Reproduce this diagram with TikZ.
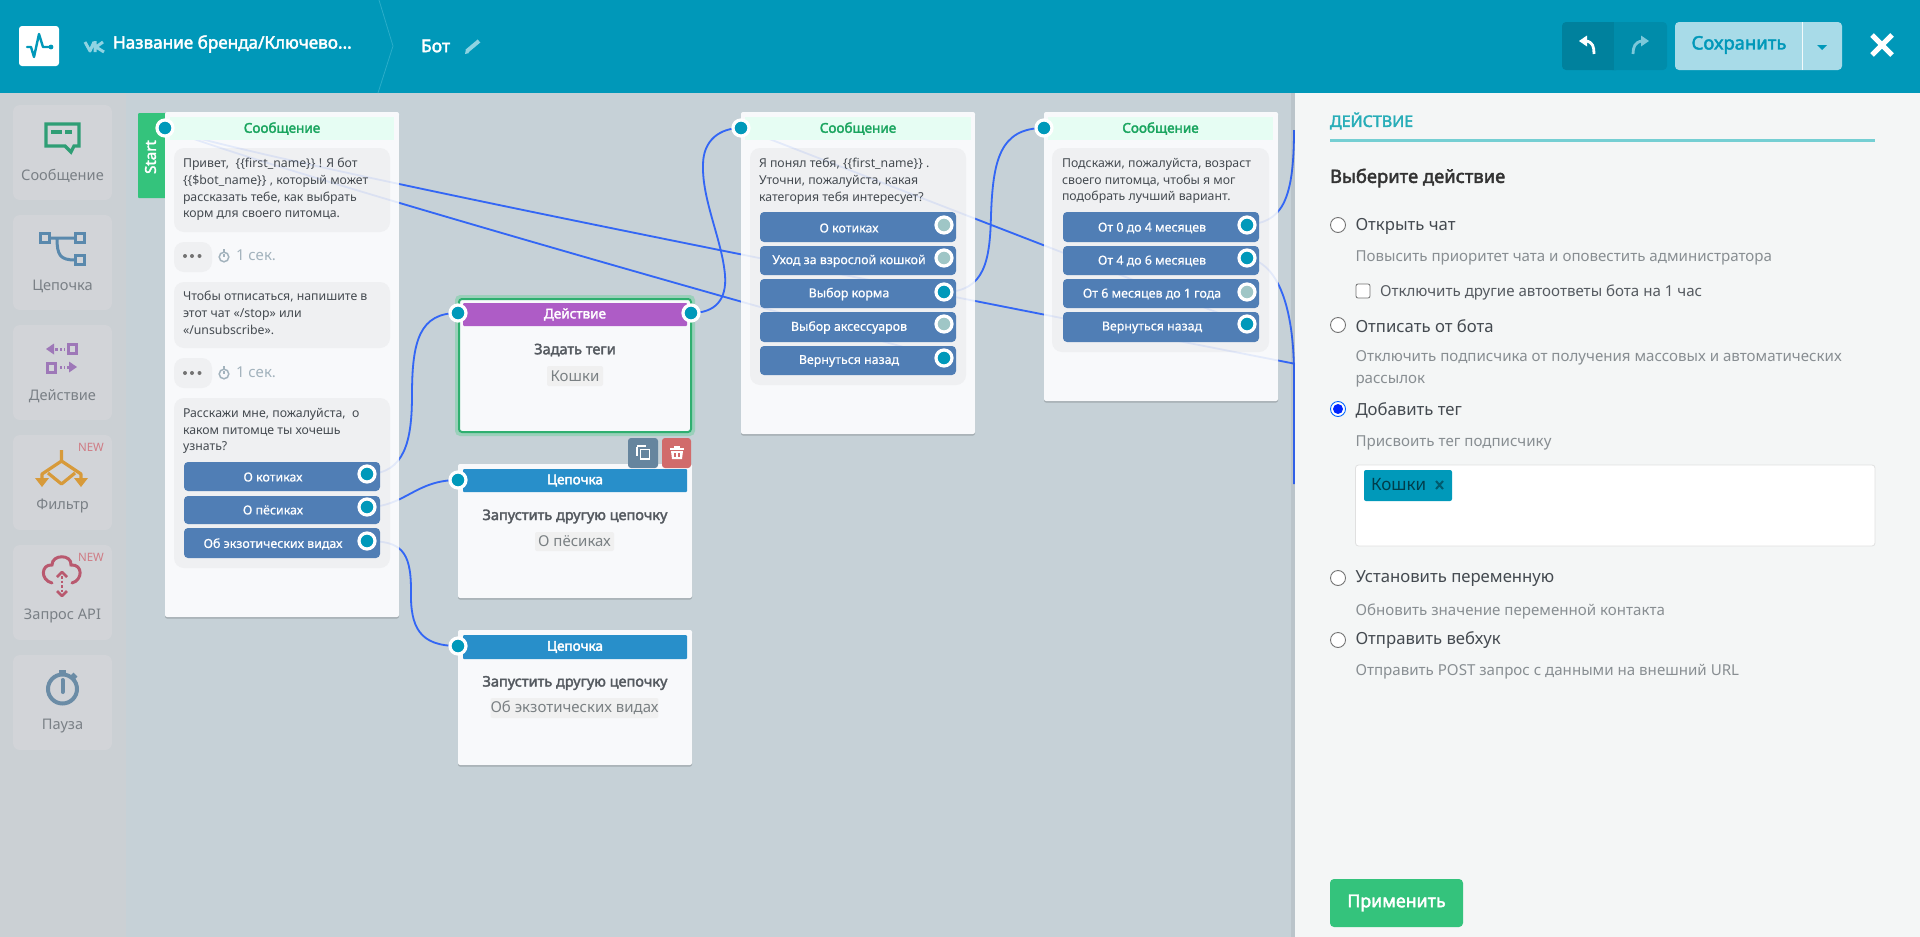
\documentclass[tikz,border=0pt]{standalone}
\usepackage{fontspec}
\setmainfont{Noto Sans}[BoldFont={Noto Sans},BoldFeatures={FakeBold=2.4}]
\newfontfamily\semib{Noto Sans}[FakeBold=0.6]
\usetikzlibrary{arrows.meta,shadows}
\definecolor{hdr}{HTML}{0098B9}
\definecolor{hdrline}{HTML}{2AADC9}
\definecolor{canvasbg}{HTML}{C6D1D7}
\definecolor{sidebg}{HTML}{CBD0D4}
\definecolor{tilebg}{HTML}{D2D4D8}
\definecolor{cardbg}{HTML}{F8F9FB}
\definecolor{msghead}{HTML}{E6FDF3}
\definecolor{msgtxt}{HTML}{1AA55F}
\definecolor{bubble}{HTML}{EFF0F2}
\definecolor{btnblue}{HTML}{507EB5}
\definecolor{portblue}{HTML}{0099BA}
\definecolor{portoff}{HTML}{9FC6C6}
\definecolor{wireblue}{HTML}{3366F5}
\definecolor{startgreen}{HTML}{34C37C}
\definecolor{glowgreen}{HTML}{9AD0BA}
\definecolor{actpurple}{HTML}{AE5CC6}
\definecolor{chainblue}{HTML}{288FCA}
\definecolor{panelbg}{HTML}{F4F6F6}
\definecolor{dk}{HTML}{444A50}
\definecolor{mid}{HTML}{555A60}
\definecolor{lite}{HTML}{888E92}
\definecolor{sidetxt}{HTML}{7A8086}
\definecolor{sectxt}{HTML}{A3B3BD}
\definecolor{icgreen}{HTML}{2F9E75}
\definecolor{icblue}{HTML}{5A89AD}
\definecolor{icpurple}{HTML}{9E78B8}
\definecolor{icorange}{HTML}{D79A3A}
\definecolor{icred}{HTML}{B9596F}
\definecolor{icslate}{HTML}{6B8CA6}
\definecolor{newred}{HTML}{CF7C85}
\definecolor{delred}{HTML}{D16B6B}
\definecolor{iconpale}{HTML}{8FD3E2}
\definecolor{redopale}{HTML}{7CC8DA}
\definecolor{teal}{HTML}{27ADB8}
\definecolor{tealline}{HTML}{75CFD3}
\definecolor{savebg}{HTML}{A8DBE8}
\newcommand{\fs}[1]{\fontsize{#1}{#1}\selectfont}
\newcommand{\rbox}[7]{\node[#2,minimum width={(#5-#3)*1pt},minimum height={(#6-#4)*1pt}] (#1) at ({(#3+#5)/2},{(#4+#6)/2}) {#7};}
\pgfdeclarelayer{wirelayer}\pgfdeclarelayer{cardlayer}\pgfdeclarelayer{faintlayer}
\pgfsetlayers{wirelayer,cardlayer,faintlayer,main}
\tikzset{
  base/.style={inner sep=0pt,outer sep=0pt},
  card/.style={base,fill=cardbg,rounded corners=2pt,drop shadow={shadow xshift=0pt,shadow yshift=-1.5pt,opacity=.18,fill=black}},
  bub/.style={base,fill=bubble,rounded corners=10pt},
  msgh/.style={base,fill=msghead,text=msgtxt,font=\bfseries\fs{13.5}},
  acth/.style={base,fill=actpurple,text=white,font=\bfseries\fs{13.5},rounded corners=1pt},
  chh/.style={base,fill=chainblue,text=white,font=\bfseries\fs{13.5},rounded corners=1pt},
  btnbox/.style={base,fill=btnblue,rounded corners=4pt},
  btntxt/.style={base,text=white,font=\semib\fs{12.4}},
  porton/.style={base,circle,draw=white,line width=3.2pt,fill=portblue,minimum size=16pt},
  portdim/.style={base,circle,draw=white,line width=3.2pt,fill=portoff,minimum size=16pt},
  para/.style={base,anchor=north west,align=left,text=dk,font=\fontsize{12.3}{16.6}\selectfont},
  tile/.style={base,fill=tilebg,rounded corners=7pt},
  sidelab/.style={base,text=sidetxt,font=\fs{14.6}},
  newlab/.style={base,text=newred,font=\fs{11.5}},
  title/.style={base,text=mid,font=\bfseries\fs{14.5}},
  tagbox/.style={base,fill=black!6,rounded corners=2pt,text=lite!90!black,font=\fs{15}},
  opt/.style={base,anchor=west,text=dk,font=\fs{16.7}},
  hint/.style={base,anchor=west,text=lite,font=\fs{15.1}},
  radio/.style={base,circle,draw=black!55,fill=white,line width=.9pt,minimum size=15pt},
  wire/.style={draw=wireblue,line width=1.8pt},
}
\newcommand{\wires}[1]{%
  \draw[wire,#1] (pSt.center) .. controls (235,157) and (1000,306) .. (offA);
  \draw[wire,#1] (pSt.center) .. controls (235,160) and (860,336) .. (pBack3.center);
  \draw[wire,#1] (pC3in.center) -- (pBack4.center);
  \draw[wire,#1] (pKot.center) .. controls (405,474) and (412,440) .. (412,395) .. controls (412,340) and (420,313) .. (pAin.center);
  \draw[wire,#1] (pPes.center) .. controls (405,507) and (415,480) .. (pCh1.center);
  \draw[wire,#1] (pEx.center) .. controls (400,541) and (411,550) .. (411,590) .. controls (410,628) and (420,646) .. (pCh2.center);
  \draw[wire,#1] (pAout.center) .. controls (715,313) and (727,300) .. (725,275) .. controls (722,240) and (702,200) .. (703,165) .. controls (703,140) and (720,128) .. (pC3in.center);
  \draw[wire,#1] (pCorm.center) .. controls (985,292) and (990,260) .. (991,215) .. controls (993,160) and (1000,128) .. (pC4in.center);
  \draw[wire,#1] (pM0.center) .. controls (1280,222) and (1294,205) .. (offB);
  \draw[wire,#1] (pM4.center) .. controls (1275,262) and (1293,300) .. (1294,370) -- (offC);
}
\begin{document}
\begin{tikzpicture}[x=1pt,y=-1pt]
\useasboundingbox (0,0) rectangle (1920,937);
\clip (0,0) rectangle (1920,937);
\coordinate (offA) at (1296,364);
\coordinate (offB) at (1294,130);
\coordinate (offC) at (1294,484);
\begin{pgfonlayer}{wirelayer}
  \fill[canvasbg] (0,0) rectangle (1920,937);
\end{pgfonlayer}
\begin{pgfonlayer}{cardlayer}
  % sidebar
  \fill[sidebg] (0,93) rectangle (126,937);
  \rbox{tSoob}{tile}{13}{105}{112}{200}{}
  \rbox{tCep}{tile}{13}{215}{112}{310}{}
  \rbox{tDei}{tile}{13}{325}{112}{420}{}
  \rbox{tFil}{tile}{13}{435}{112}{530}{}
  \rbox{tApi}{tile}{13}{545}{112}{640}{}
  \rbox{tPau}{tile}{13}{655}{112}{750}{}
  % start tab
  \rbox{tabSt}{base,fill=startgreen,rounded corners=1pt}{138}{113}{170}{198}{}
  % cards
  \rbox{c1}{card}{165}{112}{399}{617}{}
  \rbox{c3}{card}{741}{112}{975}{434}{}
  \rbox{c4}{card}{1044}{112}{1278}{401}{}
  \rbox{c5}{card}{458}{464}{692}{598}{}
  \rbox{c6}{card}{458}{630}{692}{765}{}
  \fill[glowgreen,rounded corners=5pt] (455,295) rectangle (695,436);
  \rbox{c2}{base,fill=cardbg,draw=startgreen!90!black,line width=2pt,rounded corners=3pt}{459}{299}{691}{432}{}
  % bubbles
  \rbox{b11}{bub}{174}{148}{390}{232}{}
  \rbox{b12}{bub}{174}{242}{212}{272}{}
  \rbox{b13}{bub}{174}{282}{390}{348}{}
  \rbox{b14}{bub}{174}{358}{212}{388}{}
  \rbox{b15}{bub}{174}{398}{390}{568}{}
  \rbox{b31}{bub}{750}{148}{966}{385}{}
  \rbox{b41}{bub}{1052}{148}{1269}{352}{}
  % panel
  \fill[black,opacity=.06] (1291,93) rectangle (1295,937);
  \fill[panelbg] (1295,93) rectangle (1920,937);
\end{pgfonlayer}
% header
\fill[hdr] (0,0) rectangle (1920,93);
\draw[hdrline,line width=.8pt] (379,0) -- (393,46) -- (378,93);
\rbox{logo}{base,fill=white,rounded corners=3pt}{19}{26}{59}{66}{}
\draw[hdr,line width=2.4pt,line join=round,line cap=round] (27,47) -- (31,47) -- (34,57) -- (39,34) -- (43,47) -- (50,47);
\fill[hdr] (51,47) circle (2.4);
\draw[iconpale,line width=3pt,line join=round] (85,42) -- (90,51) -- (94,42) (95,41) -- (95,52) (103,42) -- (96,47) -- (104,52);
\node[base,anchor=west,text=white,font=\bfseries\fs{17.1}] (brand) at (113,44) {Название бренда/Ключево...};
\node[base,anchor=west,text=white,font=\bfseries\fs{17.5}] (botn) at (421,46) {Бот};
\draw[iconpale,line width=4pt] (467,51) -- (479,41);
\fill[iconpale] (465,54) -- (469,53) -- (466,49) -- cycle;
\rbox{undoA}{base,fill=hdr!85!black,rounded corners=4pt}{1562}{22}{1620}{70}{}
\rbox{undoB}{base,fill=hdr!92!black,rounded corners=4pt}{1608}{22}{1667}{70}{}
\fill[hdr!85!black] (1600,22) rectangle (1614,70);
\fill[white] (1579,41) -- (1587,35.5) -- (1587,46.5) -- cycle;
\draw[white,line width=2.8pt] (1586,41) .. controls (1593,42) and (1594,47) .. (1594,54);
\fill[redopale] (1649,41) -- (1641,35.5) -- (1641,46.5) -- cycle;
\draw[redopale,line width=2.8pt] (1642,41) .. controls (1635,42) and (1633,47) .. (1633,54);
\rbox{saveb}{base,fill=savebg,rounded corners=4pt}{1675}{22}{1842}{70}{}
\draw[white!85!savebg,line width=.8pt] (1802,22) -- (1802,70);
\node[base,text=hdr,font=\bfseries\fs{18.5}] (savet) at (1739,45) {Сохранить};
\fill[hdr] (1817,45) -- (1827,45) -- (1822,50) -- cycle;
\draw[white,line width=5pt] (1872,35) -- (1892,55) (1892,35) -- (1872,55);
% sidebar labels and icons
\node[sidelab] (lSoob) at (62.5,176) {Сообщение};
\node[sidelab] (lCep) at (62.5,286) {Цепочка};
\node[sidelab] (lDei) at (62.5,396) {Действие};
\node[sidelab] (lFil) at (62.5,506) {Фильтр};
\node[sidelab] (lApi) at (62.5,616) {Запрос API};
\node[sidelab] (lPau) at (62.5,726) {Пауза};
\node[newlab] (nw1) at (91,447) {NEW};
\node[newlab] (nw2) at (91,557) {NEW};
\draw[icgreen,line width=3.2pt,line join=miter] (46,124) -- (79,124) -- (79,146) -- (74,146) -- (71,152) -- (65,146) -- (46,146) -- cycle;
\draw[icgreen,line width=3.5pt] (51,132) -- (62,132) (65,132) -- (72,132);
\draw[icblue,line width=3pt] (40.5,233.5) rectangle (49.5,242) (75.5,233.5) rectangle (84,242) (75.5,255) rectangle (84,264);
\draw[icblue,line width=3pt] (50,238) -- (75,238) (57,238) .. controls (57,255) and (60,260) .. (75,260);
\fill[icpurple] (46,349) -- (54,343.5) -- (54,354.5) -- cycle (69,361.5) -- (77,367) -- (69,372.5) -- cycle;
\draw[icpurple,line width=3pt] (55,349) -- (58,349) (60,349) -- (62,349) (64,349) -- (65,349) (60,367) -- (62,367) (64,367) -- (65,367) (67,367) -- (69,367);
\draw[icpurple,line width=3pt] (68.5,344.5) rectangle (76.5,353.5) (47.5,363) rectangle (55.5,372);
\draw[icorange,line width=3.2pt,line join=round] (61.5,450) -- (61.5,461) (42,480) -- (42,474) -- (61.5,461) -- (81,474) -- (81,480) (48,473) -- (61.5,484) -- (75,473);
\fill[icorange] (35,478) -- (49,478) -- (42,487) -- cycle (74,478) -- (88,478) -- (81,487) -- cycle;
\draw[icred,line width=3pt,line cap=round] (52,583) .. controls (40,580) and (41,564) .. (52,565) .. controls (52,554) and (72,554) .. (71,565) .. controls (83,564) and (83,580) .. (72,583);
\draw[icred,line width=2.5pt,dotted] (62,576) -- (62,592);
\draw[icred,line width=2.5pt,line join=round] (57,577) -- (62,572) -- (67,577) (57,591) -- (62,596) -- (67,591);
\draw[icslate,line width=4pt] (62.5,689) circle (14.5);
\draw[icslate,line width=4pt,line cap=round] (62.5,680) -- (62.5,692);
\fill[icslate] (59,670) rectangle (66,675);
\draw[icslate,line width=4pt] (72,674) -- (76,678);
% start tab and card heads
\node[base,rotate=90,text=white,font=\bfseries\fs{15}] (stTxt) at (150.5,157) {Start};
\rbox{h1}{msgh}{170}{117}{394}{140}{Сообщение}
\rbox{h3}{msgh}{745}{117}{971}{140}{Сообщение}
\rbox{h4}{msgh}{1048}{117}{1273}{140}{Сообщение}
\rbox{h2}{acth}{463}{303}{687}{326}{Действие}
\rbox{h5}{chh}{463}{469}{687}{492}{Цепочка}
\rbox{h6}{chh}{463}{635}{687}{659}{Цепочка}
% card 1 text
\node[para] (t11) at (183,158.5) {Привет,\ \ \{\{first\_name\}\} ! Я бот\\\{\{\$bot\_name\}\} , который может\\рассказать тебе, как выбрать\\корм для своего питомца.};
\node[para] (t13) at (183,291.5) {Чтобы отписаться, напишите в\\этот чат «/stop» или\\«/unsubscribe».};
\node[para] (t15) at (183,408.5) {Расскажи мне, пожалуйста,\ \ о\\каком питомце ты хочешь\\узнать?};
\foreach \yy in {256,373}{
  \fill[black!55] (185,\yy) circle (2) (192,\yy) circle (2) (199.5,\yy) circle (2);
  \draw[sectxt,line width=1.5pt] (224,\yy+1) circle (4.8);
  \draw[sectxt,line width=1.5pt] (224,\yy-7) -- (224,\yy-4) (224,\yy-2) -- (224,\yy+1);
}
\node[base,anchor=west,text=sectxt,font=\fs{15}] (s1) at (236,255) {1 сек.};
\node[base,anchor=west,text=sectxt,font=\fs{15}] (s2) at (236,372) {1 сек.};
\rbox{b1}{btnbox}{184}{462}{380}{491}{}
\rbox{b2}{btnbox}{184}{496}{380}{524}{}
\rbox{b3}{btnbox}{184}{528}{380}{558}{}
\node[btntxt] (x1) at (273,477) {О котиках};
\node[btntxt] (x2) at (273,510) {О пёсиках};
\node[btntxt] (x3) at (273,544) {Об экзотических видах};
\node[porton] (pKot) at (367,474) {};
\node[porton] (pPes) at (367,507) {};
\node[porton] (pEx) at (367,541) {};
\node[porton] (pSt) at (165,128) {};
% action and chain cards
\node[porton] (pAin) at (458,313) {};
\node[porton] (pAout) at (691,313) {};
\node[title] (a1) at (575,350) {Задать теги};
\rbox{a2}{tagbox}{547}{366}{603}{386}{Кошки}
\rbox{cp}{base,fill=icslate!95!black,rounded corners=3pt}{628}{438}{658}{468}{}
\rbox{dl}{base,fill=delred,rounded corners=3pt}{662}{438}{691}{468}{}
\draw[white,line width=1.5pt] (637,447) -- (637,456) (637,446) -- (646,446) (640.5,449.5) rectangle (649.5,459);
\draw[white,line width=2pt] (670,449) -- (684,449) (674,447) -- (680,447);
\fill[white] (671,451) -- (683,451) -- (682,459) -- (672,459) -- cycle;
\draw[delred,line width=1.2pt] (675,453) -- (675,457) (679,453) -- (679,457);
\node[porton] (pCh1) at (458,480) {};
\node[title] (k1) at (575,516.5) {Запустить другую цепочку};
\rbox{k2}{tagbox}{535}{532}{614}{551}{О пёсиках}
\node[porton] (pCh2) at (458,646) {};
\node[title] (k3) at (575,683) {Запустить другую цепочку};
\rbox{k4}{tagbox}{491}{698}{658}{718}{Об экзотических видах}
% card 3
\node[porton] (pC3in) at (741,128) {};
\node[para] (t31) at (759,158.5) {Я понял тебя, \{\{first\_name\}\} .\\Уточни, пожалуйста, какая\\категория тебя интересует?};
\rbox{d1}{btnbox}{760}{212}{956}{242}{}
\rbox{d2}{btnbox}{760}{246}{956}{275}{}
\rbox{d3}{btnbox}{760}{279}{956}{308}{}
\rbox{d4}{btnbox}{760}{312}{956}{342}{}
\rbox{d5}{btnbox}{760}{346}{956}{375}{}
\node[btntxt] (y1) at (849,228) {О котиках};
\node[btntxt] (y2) at (849,261) {Уход за взрослой кошкой};
\node[btntxt] (y3) at (849,294) {Выбор корма};
\node[btntxt] (y4) at (849,327.5) {Выбор аксессуаров};
\node[btntxt] (y5) at (849,361) {Вернуться назад};
\node[portdim] (q1) at (944,225) {};
\node[portdim] (q2) at (944,258) {};
\node[porton] (pCorm) at (944,292) {};
\node[portdim] (q4) at (944,324) {};
\node[porton] (pBack3) at (944,358) {};
% card 4
\node[porton] (pC4in) at (1044,128) {};
\node[para] (t41) at (1062,158.5) {Подскажи, пожалуйста, возраст\\своего питомца, чтобы я мог\\подобрать лучший вариант.};
\rbox{e1}{btnbox}{1063}{212}{1259}{242}{}
\rbox{e2}{btnbox}{1063}{246}{1259}{275}{}
\rbox{e3}{btnbox}{1063}{279}{1259}{308}{}
\rbox{e4}{btnbox}{1063}{312}{1259}{342}{}
\node[btntxt] (z1) at (1152,228) {От 0 до 4 месяцев};
\node[btntxt] (z2) at (1152,261) {От 4 до 6 месяцев};
\node[btntxt] (z3) at (1152,294) {От 6 месяцев до 1 года};
\node[btntxt] (z4) at (1152,327.5) {Вернуться назад};
\node[porton] (pM0) at (1247,225) {};
\node[porton] (pM4) at (1247,258) {};
\node[portdim] (r3) at (1247,292) {};
\node[porton] (pBack4) at (1247,324) {};
% panel
\node[base,anchor=west,text=teal,font=\bfseries\fs{16}] (pT) at (1330,121) {ДЕЙСТВИЕ};
\fill[tealline] (1330,139) rectangle (1875,141.5);
\node[base,anchor=west,text=black!80,font=\bfseries\fs{18.4}] (pS) at (1330,178) {Выберите действие};
\node[radio] (r1) at (1338,225) {};
\node[opt] (o1) at (1355.5,226) {Открыть чат};
\node[hint] (h1t) at (1355.5,258) {Повысить приоритет чата и оповестить администратора};
\node[base,draw=black!55,fill=white,line width=.8pt,rounded corners=2pt,minimum size=14pt] (cb) at (1363,291) {};
\node[hint,text=mid] (cbt) at (1380,292) {Отключить другие автоответы бота на 1 час};
\node[radio] (r2) at (1338,325) {};
\node[opt] (o2) at (1355.5,326) {Отписать от бота};
\node[hint] (h2t) at (1355.5,358) {Отключить подписчика от получения массовых и автоматических};
\node[hint] (h2u) at (1355.5,381) {рассылок};
\node[radio,draw=blue!60!cyan] (r3b) at (1338,409) {};
\fill[blue!85!cyan] (r3b.center) circle (5);
\node[opt] (o3) at (1355.5,410) {Добавить тег};
\node[hint] (h3t) at (1355.5,442.5) {Присвоить тег подписчику};
\rbox{inp}{base,fill=white,draw=black!12,line width=.8pt,rounded corners=3pt}{1355.5}{465}{1875}{546}{}
\rbox{tg}{base,fill=portblue,rounded corners=2pt}{1364}{470}{1452}{501}{}
\node[base,anchor=west,text=black!60!hdr,font=\fs{17}] (tgt) at (1371,485) {Кошки};
\draw[black!40!hdr,line width=2pt] (1436,481) -- (1443,489) (1443,481) -- (1436,489);
\node[radio] (r4) at (1338,578) {};
\node[opt] (o4) at (1355.5,579) {Установить переменную};
\node[hint] (h4t) at (1355.5,611) {Обновить значение переменной контакта};
\node[radio] (r5) at (1338,640) {};
\node[opt] (o5) at (1355.5,640.5) {Отправить вебхук};
\node[hint] (h5t) at (1355.5,672) {Отправить POST запрос с данными на внешний URL};
\rbox{app}{base,fill=startgreen,rounded corners=4pt,text=white,font=\bfseries\fs{17.8}}{1330}{879}{1463}{927}{Применить}
% connectors
\begin{pgfonlayer}{wirelayer}
  \wires{}
\end{pgfonlayer}
\begin{pgfonlayer}{faintlayer}
  \begin{scope}
    \clip (0,93) rectangle (1295,937);
    \wires{opacity=.1}
  \end{scope}
\end{pgfonlayer}
\end{tikzpicture}
\end{document}
